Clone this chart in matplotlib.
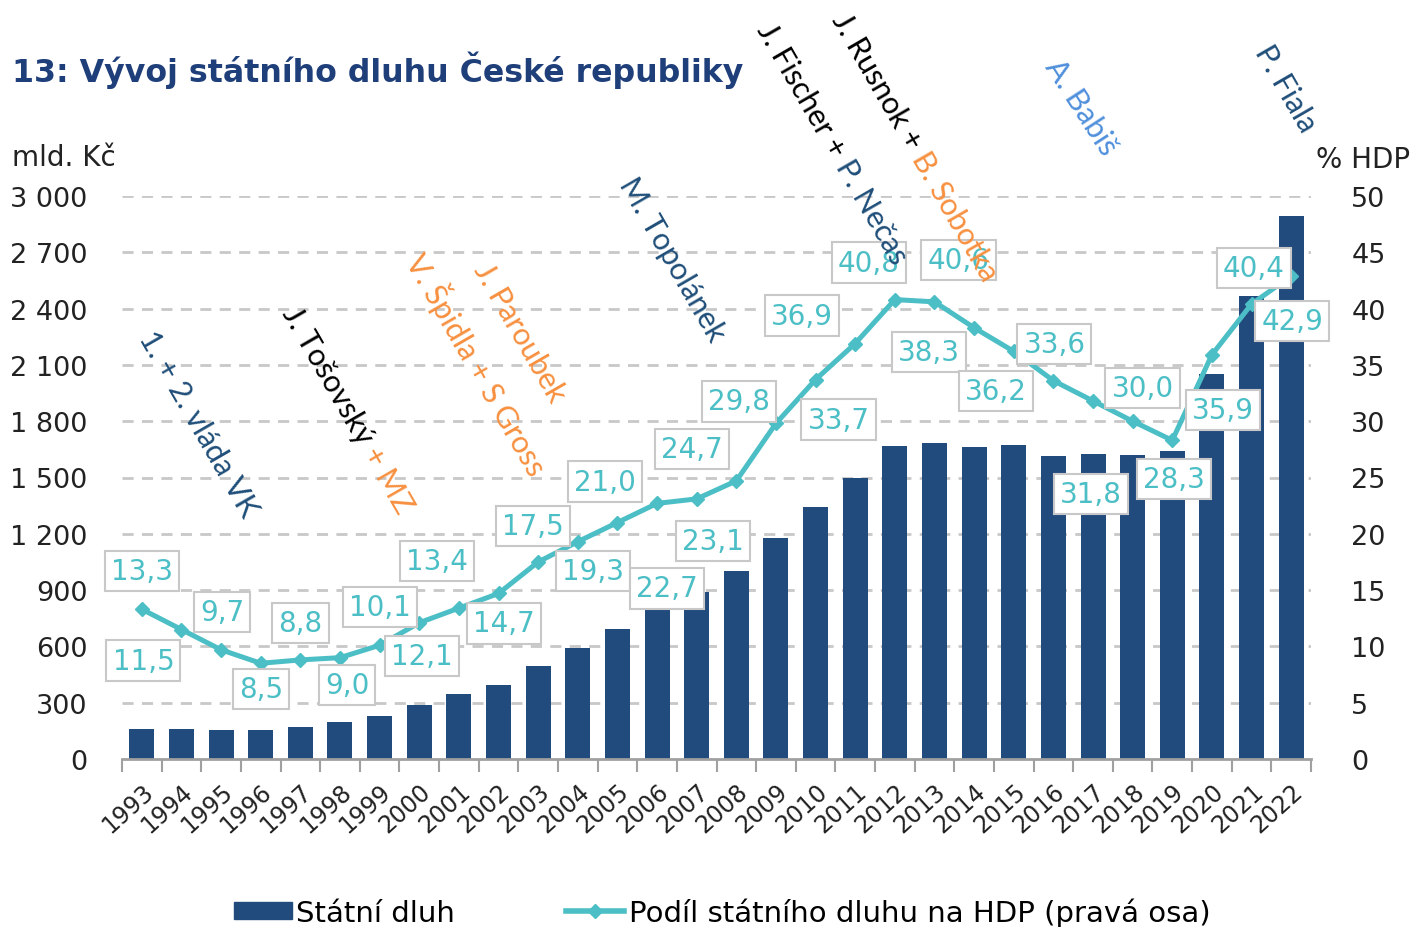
import numpy as np
import matplotlib
matplotlib.use("Agg")
import matplotlib.pyplot as plt
from matplotlib.lines import Line2D
from matplotlib.patches import Patch

# data
roky = [str(r) for r in range(1993, 2023)]
dluh = [158.8, 157.3, 154.4, 155.2, 173.1, 194.7, 228.4, 289.3, 345.0, 395.9,
        493.2, 592.9, 691.2, 802.5, 892.3, 999.8, 1178.2, 1344.1, 1499.4, 1667.6,
        1683.3, 1663.7, 1672.9, 1613.4, 1624.7, 1622.0, 1640.2, 2049.7, 2465.7, 2894.8]
podil_hdp = [13.3, 11.5, 9.7, 8.5, 8.8, 9.0, 10.1, 12.1, 13.4, 14.7,
             17.5, 19.3, 21.0, 22.7, 23.1, 24.7, 29.8, 33.7, 36.9, 40.8,
             40.6, 38.3, 36.2, 33.6, 31.8, 30.0, 28.3, 35.9, 40.4, 42.9]
levy_ticks = [0, 300, 600, 900, 1200, 1500, 1800, 2100, 2400, 2700, 3000]
pravy_ticks = [0, 5, 10, 15, 20, 25, 30, 35, 40, 45, 50]

# label offsets in pixels (dx right, dy up) from the line point
offsety = [(0, 38), (-38, -31), (1, 38), (0, -26), (0, 37), (7, -27), (0, 38), (3, -33),
           (-22, 47), (5, -30), (-5, 36), (15, -29), (-12, 41), (10, -85), (16, -42),
           (-44, 32), (-37, 22), (23, -40), (-53, 28), (-26, 37), (24, 42), (-45, -24),
           (-18, -40), (1, 37), (-2, -93), (10, 33), (2, -39), (11, -55), (2, 36), (1, -45)]

NAVY = "#214a7d"
TEAL = "#4bbfc5"
ORANGE = "#f7903f"
TXT_NAVY = "#1f4e79"
LBLUE = "#4f8fdb"

W, H = 1412, 928
fig = plt.figure(figsize=(W / 100, H / 100), dpi=100)
ax = fig.add_axes([122 / W, (H - 760) / H, (1311 - 122) / W, (760 - 197) / H])

x = np.arange(len(roky))
ax.bar(x, dluh, width=0.63, color=NAVY, zorder=2)
ax.set_xlim(-0.5, len(roky) - 0.5)
ax.set_ylim(0, 3000)
ax.set_yticks(levy_ticks)
ax.set_yticklabels([f"{v:,}".replace(",", " ") for v in levy_ticks])
for v in levy_ticks[1:]:
    ax.axhline(v, color="#c8c8c8", lw=2, ls=(0, (4, 3)), zorder=1)
ax.tick_params(axis="y", length=0, pad=25, labelsize=19.5, labelcolor="#222222")
ax.set_xticks(x)
ax.set_xticklabels(roky, rotation=42, ha="right", va="top", rotation_mode="anchor",
                   fontsize=17, color="#222222")
ax.tick_params(axis="x", length=0, pad=14)
ax.set_xticks(np.arange(-0.5, len(roky), 1), minor=True)
ax.tick_params(axis="x", which="minor", length=9, width=1.5, color="#a0a0a0")
for s in ["top", "left", "right"]:
    ax.spines[s].set_visible(False)
ax.spines["bottom"].set_color("#a0a0a0")
ax.spines["bottom"].set_linewidth(2)

ax2 = ax.twinx()
ax2.plot(x, podil_hdp, color=TEAL, lw=3.6, marker="D", markersize=7, zorder=3)
ax2.set_ylim(0, 50)
ax2.set_yticks(pravy_ticks)
ax2.tick_params(axis="y", length=0, pad=29, labelsize=19.5, labelcolor="#222222")
for s in ["top", "left", "right", "bottom"]:
    ax2.spines[s].set_visible(False)

for i, (v, (dx, dy)) in enumerate(zip(podil_hdp, offsety)):
    ax2.annotate(f"{v:.1f}".replace(".", ","), xy=(i, v), xytext=(dx, dy),
                 textcoords="offset pixels", ha="center", va="center",
                 fontsize=20, color=TEAL, zorder=5,
                 bbox=dict(boxstyle="square,pad=0.22", fc="white", ec="#c8c8c8", lw=1.5))

# titles
fig.text(12 / W, 1 - 70 / H, "13: Vývoj státního dluhu České republiky", fontsize=22.8,
         fontweight="bold", color="#1f3f7a", va="center", ha="left")
fig.text(12 / W, 1 - 158 / H, "mld. Kč", fontsize=20, color="#222222", va="center")
fig.text(1410 / W, 1 - 160 / H, "% HDP", fontsize=20, color="#222222", va="center", ha="right")

# government names, rotated
fig.canvas.draw()
renderer = fig.canvas.get_renderer()


def rot_text(x0, y0, parts, angle=-60, size=22):
    px, py = x0, H - y0
    a = np.deg2rad(angle)
    for s, c in parts:
        fig.text(px / W, py / H, s, color=c, rotation=angle, rotation_mode="anchor",
                 ha="left", va="center", fontsize=size, family="Lato", zorder=10)
        tmp = fig.text(0, 0, s, fontsize=size, family="Lato")
        w = tmp.get_window_extent(renderer).width
        tmp.remove()
        px += w * np.cos(a)
        py += w * np.sin(a)


rot_text(146, 333, [("1. + 2. vláda VK", TXT_NAVY)])
rot_text(289, 309, [("J. Tošovský", "black"), (" + MZ", ORANGE)])
rot_text(415, 255, [("V. Špidla + S Gross", ORANGE)])
rot_text(481, 265, [("J. Paroubek", ORANGE)])
rot_text(626, 180, [("M. Topolánek", TXT_NAVY)])
rot_text(764, 26, [("J. Fischer +", "black"), (" P. Nečas", TXT_NAVY)])
rot_text(839, 16, [("J. Rusnok +", "black"), (" B. Sobotka", ORANGE)])
rot_text(1052, 62, [("A. Babiš", LBLUE)], angle=-57)
rot_text(1262, 48, [("P. Fiala", TXT_NAVY)])

# legend
handles = [Patch(color=NAVY),
           Line2D([0], [0], color=TEAL, lw=4, marker="D", markersize=7)]
fig.legend(handles, ["Státní dluh", "Podíl státního dluhu na HDP (pravá osa)"],
           loc="center", bbox_to_anchor=(722 / W, 1 - 913 / H), ncol=2, frameon=False,
           fontsize=21, handlelength=2.0, handleheight=0.5, handletextpad=0.15,
           columnspacing=3.8)

fig.savefig("out.png", dpi=100)
